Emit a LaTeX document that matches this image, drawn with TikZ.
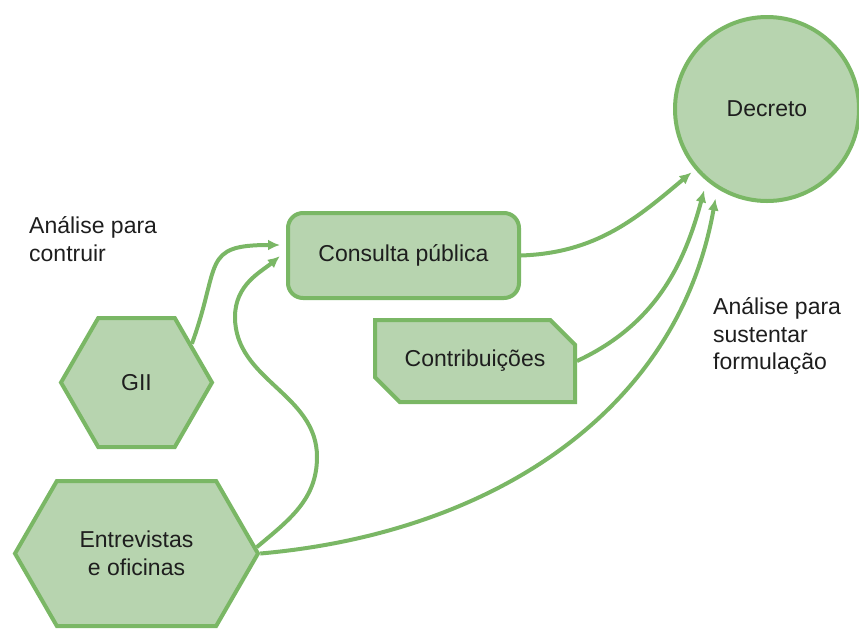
\documentclass[tikz,border=0pt]{standalone}
\usepackage{fontspec}
\setmainfont{Liberation Sans}
\usepackage{tikz}
\usetikzlibrary{arrows.meta}
\usetikzlibrary{shapes}
\definecolor{leaf}{HTML}{7AB765}
\definecolor{leaffill}{HTML}{B7D4AF}
\definecolor{ink}{HTML}{1E1E1E}

\begin{document}
\begin{tikzpicture}[x=1pt, y=1pt, font=\fontsize{23}{27.5}\selectfont,
  roundnode/.style={circle, draw=leaf, fill=leaffill, line width=4pt, text=ink, minimum size=184pt, inner sep=0pt},
  boxnode/.style={rectangle, rounded corners=15pt, draw=leaf, fill=leaffill, line width=4pt, text=ink, inner sep=0pt},
  cutnode/.style={chamfered rectangle, chamfered rectangle corners={north east, south west}, chamfered rectangle xsep=14pt, chamfered rectangle ysep=14pt, draw=leaf, fill=leaffill, line width=4pt, text=ink, inner sep=0pt},
  hexnode/.style={signal, signal to=west and east, signal pointer angle=120, draw=leaf, fill=leaffill, line width=4pt, text=ink, align=center, inner sep=0pt}]
\tikzset{edge/.style = {-{Latex[width=11pt, length=12pt]}, leaf, line width=4pt}}
\useasboundingbox (0,0) rectangle (859,-630);
\node[roundnode] (Decreto) at (767,-109) {Decreto};
\node[boxnode, minimum width=231pt, minimum height=85pt] (Consulta) at (403.5,-255.5) {Consulta pública};
\node[cutnode, minimum width=200pt, minimum height=82pt] (Contrib) at (475,-361) {Contribuições};
\node[hexnode, minimum width=151pt, minimum height=129pt] (GII) at (136.5,-382.5) {GII};
\node[hexnode, minimum width=243pt, minimum height=145pt] (Entrev) at (136.5,-553.5) {Entrevistas\\e oficinas};
\node[anchor=west, align=left, text=ink, inner sep=0pt] (a1) at (29,-239) {Análise para\\contruir};
\node[anchor=west, align=left, text=ink, inner sep=0pt] (a2) at (713,-336) {Análise para\\sustentar\\formulação};
% rumo a consulta publica
\draw[edge, shorten >=6pt] (GII.35) to[out=70, in=180, looseness=1.6] ([yshift=10.5pt]Consulta.west);
\draw[edge, shorten >=8pt] (Entrev.3) to[out=40, in=-90] (317,-457) to[out=90, in=-90] (235,-317) to[out=90, in=-140] ([yshift=4.5pt]Consulta.west);
% rumo ao decreto
\draw[edge, shorten >=4.6pt] (Consulta.east) to[out=2, in=-140] (Decreto.220);
\draw[edge, shorten >=9.6pt] (Contrib.east) to[out=25, in=-105] (Decreto.230);
\draw[edge, shorten >=10pt] (Entrev.east) to[out=5, in=-100] (Decreto.238);
%\draw[edge] (GII) to (Entrev);
\end{tikzpicture}
\end{document}
